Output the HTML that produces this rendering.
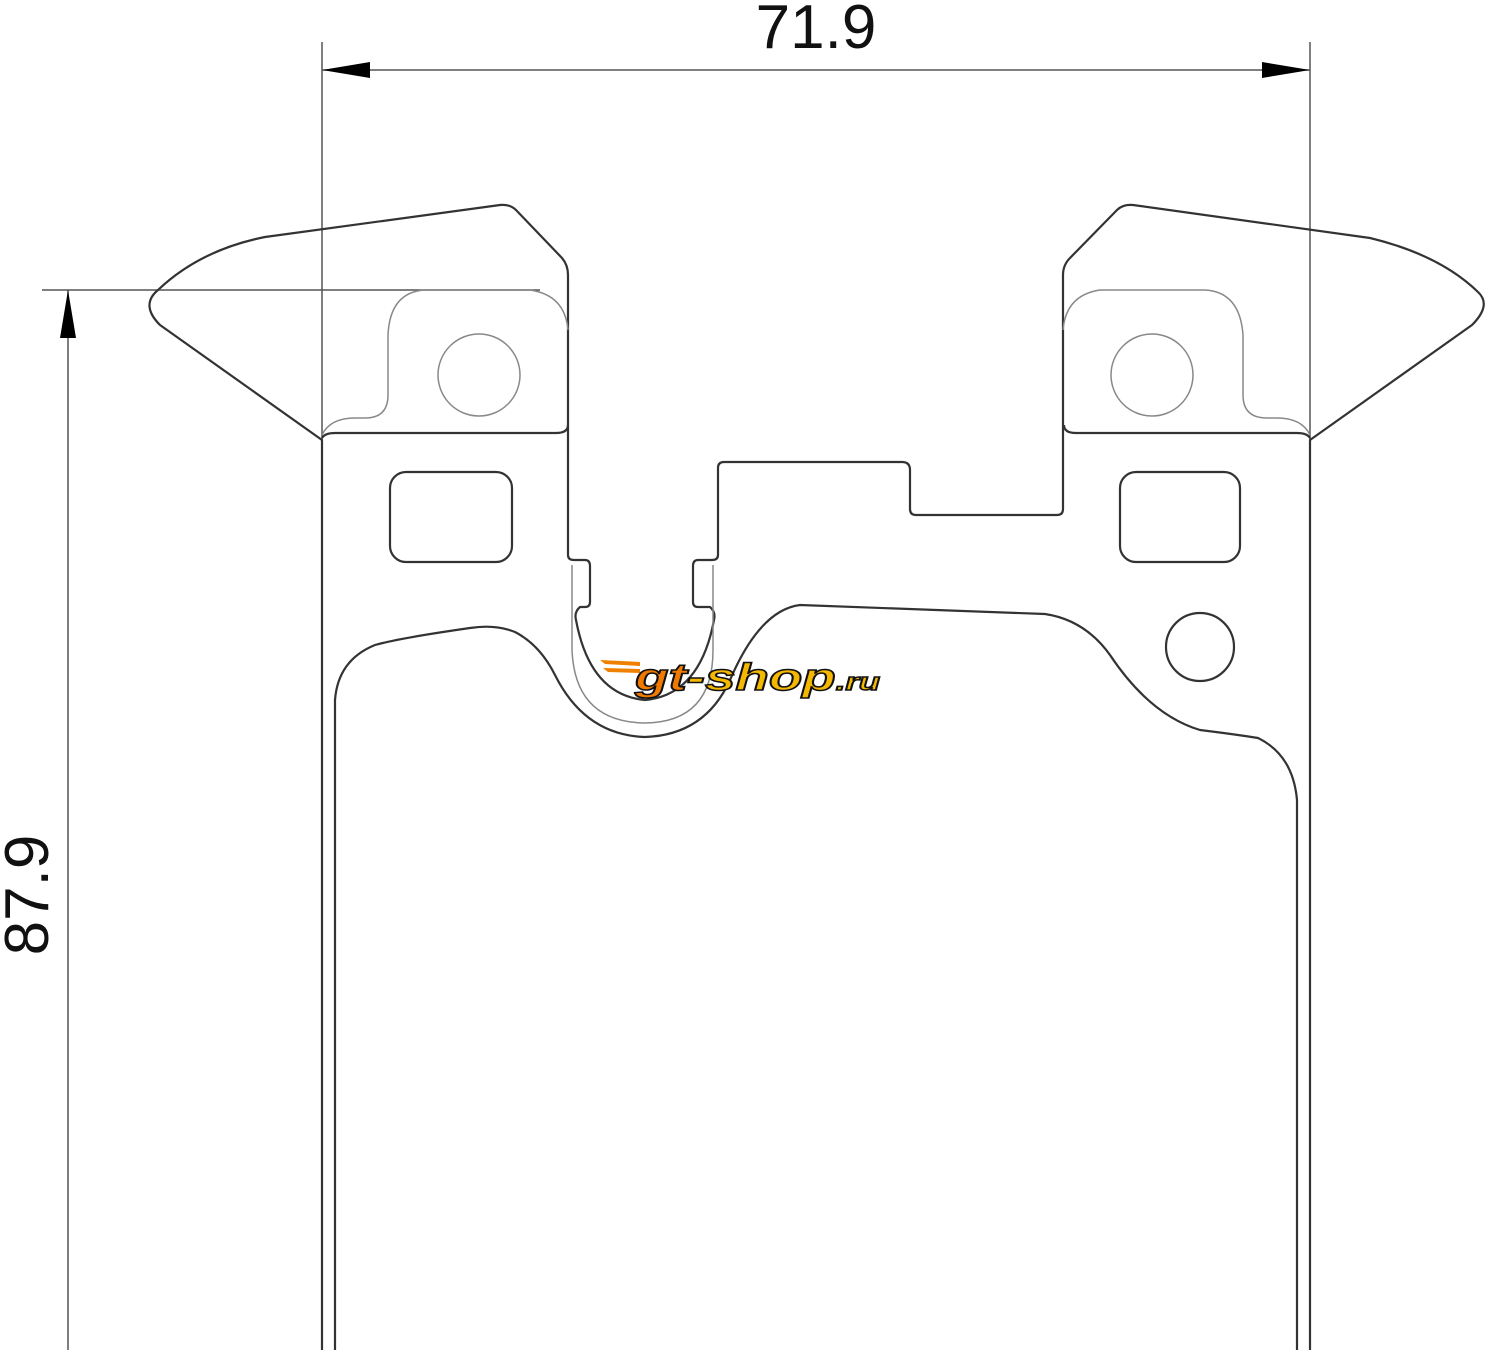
<!DOCTYPE html>
<html><head><style>html,body{margin:0;padding:0;background:#fff;width:1485px;height:1350px;overflow:hidden}</style></head>
<body>
<svg width="1485" height="1350" viewBox="0 0 1485 1350" xmlns="http://www.w3.org/2000/svg">
<g fill="none" stroke="#555" stroke-width="1.5">
<line x1="322" y1="42" x2="322" y2="1350"/>
<line x1="1310" y1="42" x2="1310" y2="1350"/>
<line x1="322" y1="70" x2="1310" y2="70"/>
<line x1="42" y1="290" x2="540" y2="290"/>
<line x1="68" y1="290" x2="68" y2="1350"/>
</g>
<g fill="#000">
<polygon points="322,70 370,62 370,78"/>
<polygon points="1310,70 1262,62 1262,78"/>
<polygon points="68,290 60,338 76,338"/>
</g>
<text x="816" y="48" font-family="Liberation Sans, sans-serif" font-size="62" text-anchor="middle" fill="#111">71.9</text>
<text transform="translate(48,895) rotate(-90)" font-family="Liberation Sans, sans-serif" font-size="62" text-anchor="middle" fill="#111">87.9</text>

<g fill="none" stroke="#333" stroke-width="2.2" stroke-linejoin="round">
<path d="M322,1350 L322,440 L160,325 Q140,305 158,290 Q200,250 265,237 L500,205 Q510,204 516,210 L562,258 Q568,265 568,275 L568,555 Q568,560 574,560 L585,560 Q590,560 590,566 L590,602 Q590,607 585,607 L580,607 Q574,612 576,620 Q590,695 645,700 Q700,695 714,620 Q716,612 710,607 L698,607 Q693,607 693,602 L693,566 Q693,560 698,560 L712,560 Q718,560 718,555 L718,468 Q718,462 724,462 L902,462 Q910,462 910,470 L910,509 Q910,515 916,515 L1057,515 Q1063,515 1063,509 L1063,275 Q1063,265 1070,258 L1117,210 Q1123,204 1133,205 L1370,238 Q1440,255 1478,292 Q1492,305 1472,325 L1310,440 L1310,1350"/>
<path d="M322,438 Q325,433 335,433 L556,433 Q568,433 568,425"/>
<path d="M1310,438 Q1307,433 1297,433 L1076,433 Q1064,433 1064,425"/>
<path d="M335,1350 L335,700 Q338,660 375,645 Q400,638 470,628 Q495,624 515,632 Q540,645 555,675 Q585,735 645,737 Q705,735 730,680 Q760,610 800,605 L1045,614 Q1085,620 1110,655 Q1150,715 1200,730 Q1240,735 1258,738 Q1293,755 1297,800 L1297,1350"/>
<rect x="390" y="472" width="122" height="90" rx="16"/>
<rect x="1120" y="472" width="120" height="90" rx="16"/>
<circle cx="1200" cy="647" r="34"/>
</g>
<g fill="none" stroke="#888" stroke-width="1.5">
<path d="M322,435 Q330,418 355,418 L365,418 Q388,418 388,395 L388,335 Q390,292 425,290 L530,290 Q565,295 568,330"/>
<path d="M1310,435 Q1302,418 1277,418 L1267,418 Q1243,418 1243,395 L1243,335 Q1240,292 1205,290 L1100,290 Q1066,295 1063,330"/>
<circle cx="479" cy="375" r="41"/>
<circle cx="1152" cy="375" r="41"/>
<path d="M572,565 L572,650 Q575,722 645,723 Q713,722 713,650 L713,565"/>
</g>
<g fill="#f08000">
<polygon points="600,660 640,662 640,666 605,664"/>
<polygon points="603,668 640,669 640,673 608,672"/>
</g>
<text x="635" y="690" textLength="245" lengthAdjust="spacingAndGlyphs" font-family="Liberation Sans, sans-serif" font-weight="bold" font-style="italic" font-size="38" fill="#f5b800" stroke="#111" stroke-width="1.5"><tspan fill="#f07a00">gt</tspan>-shop<tspan font-size="24">.ru</tspan></text>
</svg>
</body></html>
